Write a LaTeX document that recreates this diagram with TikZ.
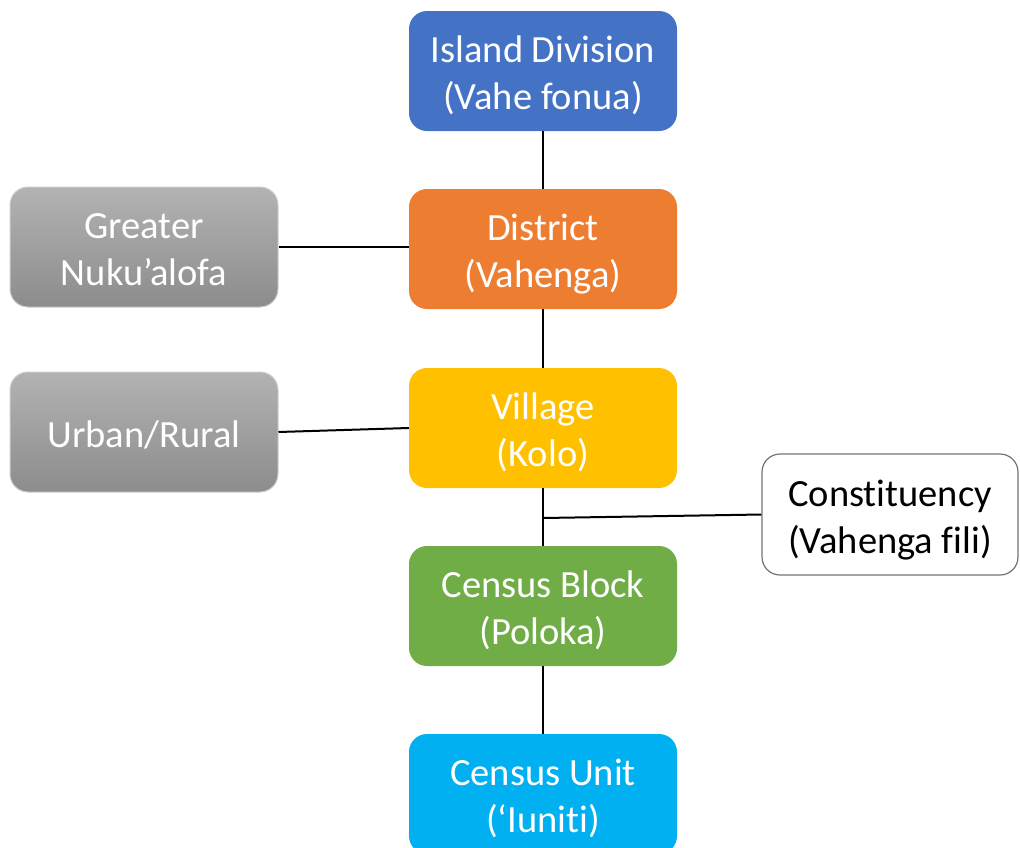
\documentclass[tikz,border=0pt]{standalone}
\usepackage{fontspec}
\setmainfont[Ligatures=NoCommon]{Carlito}
\newcommand\bxt[1]{\raisebox{-6pt}[\height][\depth]{\begin{tabular}{@{}c@{}}#1\end{tabular}}}
\begin{document}
\begin{tikzpicture}[x=1pt,y=-1pt,
  box/.style={rounded corners=18pt, minimum width=268pt, minimum height=120pt, align=center, text=white, inner sep=0pt,
    font=\fontsize{38.5}{47}\selectfont},
  graybox/.style={box, draw=gray!40, line width=1pt, top color=black!30, bottom color=black!45},
  link/.style={draw=black, line width=2pt}]
\definecolor{cblue}{HTML}{4472C4}
\definecolor{corange}{HTML}{ED7D31}
\definecolor{cyellow}{HTML}{FFC000}
\definecolor{cgreen}{HTML}{70AD47}
\definecolor{ccyan}{HTML}{00B0F0}
\useasboundingbox (0,0) rectangle (1020,847);
\node[box, fill=cblue] (island) at (543,71) {\bxt{Island Division\\(Vahe fonua)}};
\node[box, fill=corange] (district) at (543,249) {\bxt{District\\(Vahenga)}};
\node[box, fill=cyellow] (village) at (543,428) {\bxt{Village\\(Kolo)}};
\node[box, fill=cgreen] (block) at (543,606) {\bxt{Census Block\\(Poloka)}};
\node[box, fill=ccyan] (unit) at (543,794) {\bxt{Census Unit\\(‘Iuniti)}};
\node[graybox] (greater) at (144,247) {\bxt{Greater\\Nuku’alofa}};
\node[graybox] (urban) at (144,432) {\bxt{Urban/Rural}};
\node[box, draw=black!55, fill=white, text=black, line width=1.2pt, minimum width=256pt, minimum height=121pt] (const) at (890,514.5) {\bxt{Constituency\\(Vahenga fili)}};
\coordinate (j) at (543,518);
\draw[link] (island.south) -- (district.north);
\draw[link] (district.south) -- (village.north);
\draw[link] (village.south) -- (block.north);
\draw[link] (block.south) -- (unit.north);
\draw[link] (greater.east) -- (district.west |- greater.east);
\draw[link] (urban.east) -- (village.west);
\draw[link] (j) -- (const.west);
\end{tikzpicture}
\end{document}
